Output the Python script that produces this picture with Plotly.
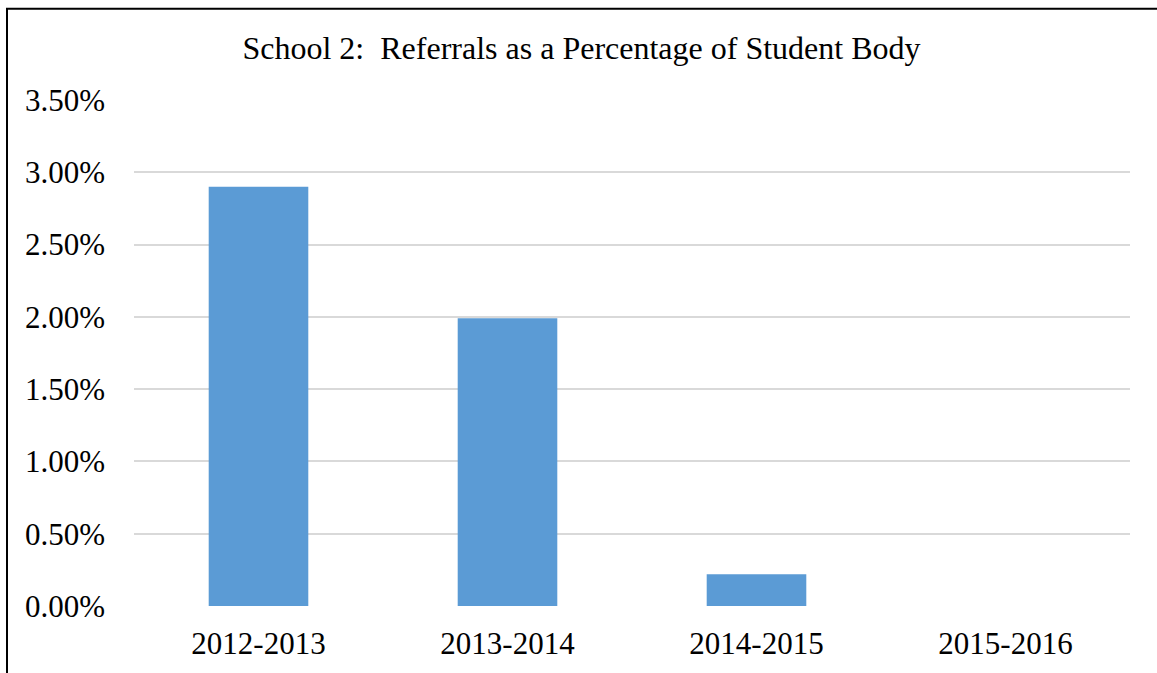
import plotly.graph_objects as go

# School years and referral rate (share of student body)
years = ["2012-2013", "2013-2014", "2014-2015", "2015-2016"]
referral_rate = [0.0290, 0.0199, 0.0022, 0.0]
y_ticks = [0.0, 0.005, 0.010, 0.015, 0.020, 0.025, 0.030, 0.035]

W, H = 1157, 673
L, R, T, B = 134, 27, 100, 65
plot_w = W - L - R
plot_h = H - T - B

FONT = "Liberation Serif, Times New Roman, serif"

fig = go.Figure(
    go.Bar(
        x=years,
        y=referral_rate,
        marker=dict(color="#5B9BD5", line=dict(width=0)),
    )
)

# frame around the chart (left and top edges visible)
fx0 = (7 - L) / plot_w
fy1 = 1 + (T - 8.5) / plot_h
fig.add_shape(
    type="rect", xref="paper", yref="paper",
    x0=fx0, x1=1.2, y0=-0.5, y1=fy1,
    line=dict(color="black", width=2), fillcolor="rgba(0,0,0,0)",
    layer="above",
)

fig.update_layout(
    width=W, height=H,
    margin=dict(l=L, r=R, t=T, b=B, pad=0),
    paper_bgcolor="white", plot_bgcolor="white",
    bargap=0.6,
    showlegend=False,
    font=dict(family=FONT, color="black", size=30),
    title=dict(
        text="School 2:\u00a0 Referrals as a Percentage of Student Body",
        x=581.5 / W, xanchor="center", xref="container",
        y=1 - 48 / H, yanchor="middle", yref="container",
        font=dict(family=FONT, size=32, color="black"),
    ),
    xaxis=dict(
        showgrid=False, showline=False, zeroline=False, ticks="",
        tickfont=dict(family=FONT, size=31, color="black"),
        ticklabelstandoff=16,
    ),
    yaxis=dict(
        range=[0, 0.035], tickvals=y_ticks, tickformat=".2%",
        showgrid=True, gridcolor="#D9D9D9", gridwidth=1.5,
        zeroline=False, showline=False, ticks="",
        tickfont=dict(family=FONT, size=31, color="black"),
        ticklabelstandoff=28,
    ),
)

fig.write_html("out.html")
